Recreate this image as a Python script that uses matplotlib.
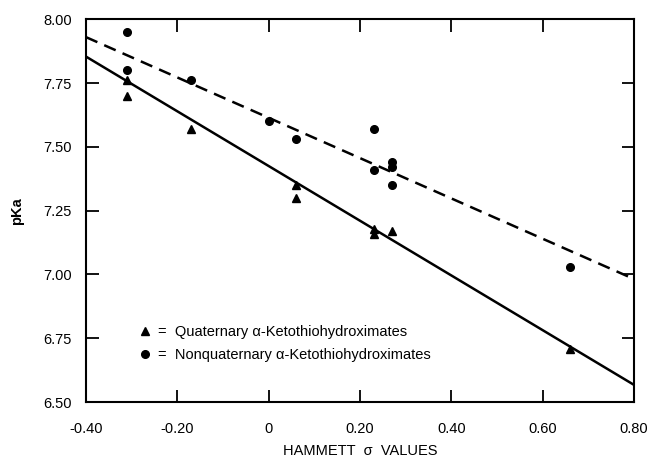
import matplotlib
matplotlib.use("Agg")
import matplotlib.pyplot as plt
from matplotlib.lines import Line2D
import numpy as np

plt.rcParams['font.family'] = ['Liberation Sans', 'DejaVu Sans']

# Hammett sigma / pKa values
sigma_quat = [-0.31, -0.31, -0.17, 0.06, 0.06, 0.23, 0.23, 0.27, 0.66]
pka_quat = [7.76, 7.70, 7.57, 7.35, 7.30, 7.18, 7.16, 7.17, 6.71]

sigma_nonquat = [-0.31, -0.31, -0.17, 0.00, 0.06, 0.23, 0.23, 0.27, 0.27, 0.27, 0.66]
pka_nonquat = [7.95, 7.80, 7.76, 7.60, 7.53, 7.57, 7.41, 7.44, 7.42, 7.35, 7.03]

# fitted lines (intercept, slope)
fit_quat = (7.425, -1.072)
fit_nonquat = (7.614, -0.79)

xticks = [-0.40, -0.20, 0.0, 0.20, 0.40, 0.60, 0.80]
xticklabels = ['-0.40', '-0.20', '0', '0.20', '0.40', '0.60', '0.80']
yticks = [6.50, 6.75, 7.00, 7.25, 7.50, 7.75, 8.00]

fig = plt.figure(figsize=(6.51, 4.58), dpi=100)
ax = fig.add_axes([0.132, 0.122, 0.842, 0.836])

xs = np.array([-0.40, 0.80])
ax.plot(xs, fit_quat[0] + fit_quat[1] * xs, color='black', lw=1.8, solid_capstyle='butt')
ax.plot(xs, fit_nonquat[0] + fit_nonquat[1] * xs, color='black', lw=1.8,
        linestyle=(0, (5, 3)))

ax.plot(sigma_quat, pka_quat, linestyle='none', marker='^', color='black', markersize=5.5)
ax.plot(sigma_nonquat, pka_nonquat, linestyle='none', marker='o', color='black', markersize=5.5)

ax.set_xlim(-0.40, 0.80)
ax.set_ylim(6.50, 8.00)
ax.set_xticks(xticks)
ax.set_xticklabels(xticklabels)
ax.set_yticks(yticks)
ax.set_yticklabels(['%.2f' % v for v in yticks])
ax.tick_params(direction='in', length=9, width=1.3, top=True, right=True,
               labelsize=10.5)
ax.tick_params(axis='x', pad=14)
ax.tick_params(axis='y', pad=10)
for sp in ax.spines.values():
    sp.set_linewidth(1.5)

ax.set_xlabel('HAMMETT  σ  VALUES', fontsize=10.5, labelpad=6)
ax.set_ylabel('pKa', fontsize=10.5, fontweight='bold', labelpad=14)

handles = [Line2D([], [], linestyle='none', marker='^', color='black', markersize=5.5),
           Line2D([], [], linestyle='none', marker='o', color='black', markersize=5.5)]
labels = ['=  Quaternary α-Ketothiohydroximates',
          '=  Nonquaternary α-Ketothiohydroximates']
ax.legend(handles, labels, loc='lower left', bbox_to_anchor=(0.07, 0.07),
          frameon=False, fontsize=10.5, handlelength=1.0, handletextpad=0.4,
          labelspacing=0.6)

fig.savefig('out.png', dpi=100)
